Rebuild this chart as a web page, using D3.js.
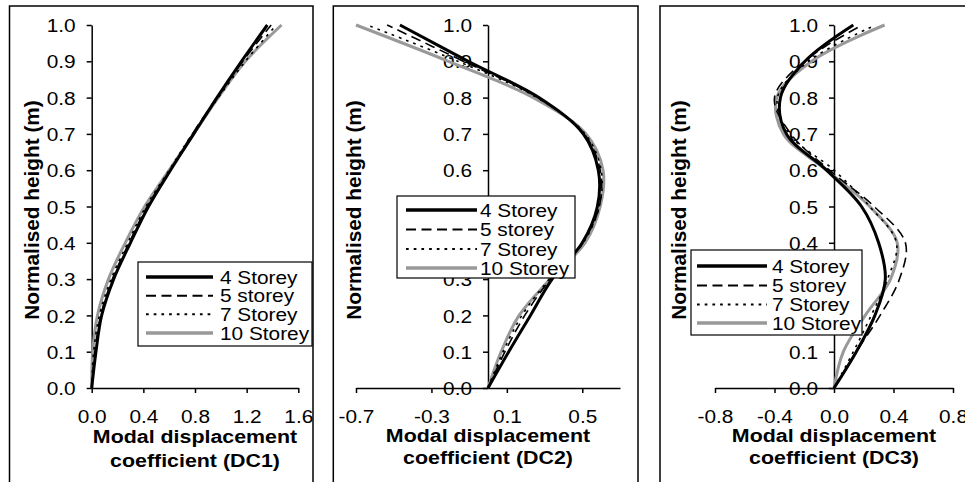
<!DOCTYPE html>
<html>
<head>
<meta charset="utf-8">
<script src="https://cdn.jsdelivr.net/npm/d3@7"></script>
<style>
  html, body { margin: 0; padding: 0; background: #fff; }
  svg { display: block; }
  text { font-family: "Liberation Sans", Arial, sans-serif; fill: #000; }
</style>
</head>
<body>
<svg id="chart" width="965" height="482"></svg>
<script>
// ---------------- DATA ----------------
const heights = [0, 0.1, 0.2, 0.3, 0.4, 0.5, 0.6, 0.7, 0.8, 0.9, 1.0];
const seriesNames = ["4 Storey", "5 storey", "7 Storey", "10 Storey"];

// DC1 (mode 1)
const dc1_4  = [0, 0.033, 0.077, 0.17, 0.30, 0.44, 0.61, 0.79, 0.97, 1.16, 1.36];
const dc1_5  = [0, 0.025, 0.07, 0.16, 0.29, 0.43, 0.61, 0.78, 0.97, 1.17, 1.39];
const dc1_7  = [0, 0.015, 0.06, 0.15, 0.28, 0.42, 0.60, 0.78, 0.98, 1.19, 1.43];
const dc1_10 = [0, 0.008, 0.045, 0.13, 0.26, 0.41, 0.60, 0.79, 0.98, 1.19, 1.47];

// DC2 (mode 2)
const dc2_4  = [0, 0.11, 0.225, 0.34, 0.50, 0.58, 0.585, 0.505, 0.27, -0.105, -0.467];
const dc2_5  = [0, 0.09, 0.195, 0.33, 0.50, 0.59, 0.595, 0.51, 0.265, -0.13, -0.535];
const dc2_7  = [0, 0.08, 0.18, 0.325, 0.505, 0.59, 0.60, 0.515, 0.26, -0.16, -0.64];
const dc2_10 = [0, 0.07, 0.165, 0.33, 0.515, 0.595, 0.61, 0.52, 0.24, -0.21, -0.70];

// DC3 (mode 3)
const dc3_4  = [0, 0.15, 0.275, 0.345, 0.30, 0.185, -0.05, -0.32, -0.36, -0.195, 0.13];
const dc3_5  = [0, 0.15, 0.31, 0.44, 0.48, 0.27, -0.03, -0.29, -0.40, -0.20, 0.19];
const dc3_7  = [0, 0.13, 0.25, 0.36, 0.42, 0.24, 0.0, -0.30, -0.38, -0.17, 0.28];
const dc3_10 = [0, 0.063, 0.21, 0.38, 0.425, 0.24, -0.05, -0.34, -0.385, -0.15, 0.34];

// Tick values
const yTicks  = [0, 0.1, 0.2, 0.3, 0.4, 0.5, 0.6, 0.7, 0.8, 0.9, 1.0];
const xTicks1 = [0, 0.4, 0.8, 1.2, 1.6];
const xTicks2 = [-0.7, -0.3, 0.1, 0.5];
const xTicks3 = [-0.8, -0.4, 0, 0.4, 0.8];

const yTitle = "Normalised height (m)";
const xTitleLine1 = "Modal displacement";
const xTitleLines2 = ["coefficient (DC1)", "coefficient (DC2)", "coefficient (DC3)"];

// ---------------- STYLES ----------------
const seriesStyle = [
  { color: "#000", width: 3,   dash: null,      lw: 3.5 },
  { color: "#000", width: 1.6, dash: "10,5.5",  lw: 2 },
  { color: "#000", width: 1.6, dash: "2.7,5",   lw: 2 },
  { color: "#999", width: 3,   dash: null,      lw: 3.5 }
];
const SX = 1.12;      // horizontal text stretch of the reference
const FS = 18.6;      // tick / legend font size

const panels = [
  { border: [9.5, 313], xr: [91.7, 298.3], domain: [0, 1.6], ticks: xTicks1,
    data: [dc1_4, dc1_5, dc1_7, dc1_10],
    legend: { x: 138, y: 262, w: 174, h: 84, l0: 146, l1: 213, tx: 220, rows: [277, 295.7, 314.3, 333] },
    yTitleX: 39, title2: xTitleLines2[0], tY: [443, 467] },
  { border: [333.3, 638], xr: [356, 620], domain: [-0.7, 0.7], ticks: xTicks2,
    data: [dc2_4, dc2_5, dc2_7, dc2_10],
    legend: { x: 397, y: 196, w: 178, h: 82, l0: 406, l1: 477, tx: 480, rows: [210, 229.5, 249, 268] },
    yTitleX: 361, title2: xTitleLines2[1], tY: [442, 464] },
  { border: [660, 1000], xr: [715, 953], domain: [-0.8, 0.8], ticks: xTicks3,
    data: [dc3_4, dc3_5, dc3_7, dc3_10],
    legend: { x: 691, y: 250, w: 171, h: 85, l0: 697, l1: 767, tx: 772, rows: [266, 285.5, 304.5, 323] },
    yTitleX: 686, title2: xTitleLines2[2], tY: [442, 464] }
];

const svg = d3.select("#chart");
svg.append("rect").attr("width", 965).attr("height", 482).attr("fill", "#fff");

const fmt = v => (Math.abs(v) < 1e-9 ? 0 : v).toFixed(1);

panels.forEach(p => {
  const g = svg.append("g");
  // panel border (bottom edge lies below the picture)
  g.append("rect")
    .attr("x", p.border[0]).attr("y", 6)
    .attr("width", p.border[1] - p.border[0]).attr("height", 520)
    .attr("fill", "#fff").attr("stroke", "#000").attr("stroke-width", 1.5);

  const x = d3.scaleLinear().domain(p.domain).range(p.xr);
  const y = d3.scaleLinear().domain([0, 1]).range([388, 25]);
  const x0 = x(Math.max(p.domain[0], 0));

  // y axis
  const ya = g.append("g").attr("transform", `translate(${x0},0)`)
    .call(d3.axisLeft(y).tickValues(yTicks).tickSize(5).tickSizeOuter(0).tickFormat(""));
  ya.selectAll("path, line").attr("stroke", "#000").attr("stroke-width", 1.5);
  ya.selectAll(".tick").append("text")
    .attr("transform", `translate(-16,0) scale(${SX},1)`)
    .attr("text-anchor", "end").attr("dy", "0.36em")
    .style("font-size", FS + "px")
    .text(d => fmt(d));

  // x axis
  const xa = g.append("g").attr("transform", `translate(0,${y(0)})`)
    .call(d3.axisBottom(x).tickValues(p.ticks).tickSize(5).tickSizeOuter(0).tickFormat(""));
  xa.selectAll("path, line").attr("stroke", "#000").attr("stroke-width", 1.5);
  xa.selectAll(".tick").append("text")
    .attr("transform", `translate(0,35) scale(${SX},1)`)
    .attr("text-anchor", "middle")
    .style("font-size", FS + "px")
    .text(d => fmt(d));

  // axis titles
  const cx = (p.xr[0] + p.xr[1]) / 2;
  g.append("text")
    .attr("transform", `translate(${cx},${p.tY[0]}) scale(1.15,1)`)
    .attr("text-anchor", "middle").style("font-size", "18.6px").style("font-weight", "bold")
    .text(xTitleLine1);
  g.append("text")
    .attr("transform", `translate(${cx},${p.tY[1]}) scale(1.15,1)`)
    .attr("text-anchor", "middle").style("font-size", "18.6px").style("font-weight", "bold")
    .text(p.title2);
  g.append("text")
    .attr("transform", `translate(${p.yTitleX},210) rotate(-90)`)
    .attr("text-anchor", "middle").style("font-size", "20.8px").style("font-weight", "bold")
    .text(yTitle);

  // series
  const line = d3.line()
    .x(d => x(d[0])).y(d => y(d[1]))
    .curve(d3.curveCatmullRom.alpha(0.5));
  const order = [3, 2, 1, 0];
  order.forEach(i => {
    const pts = heights.map((h, k) => [p.data[i][k], h]);
    const st = seriesStyle[i];
    g.append("path").datum(pts)
      .attr("d", line)
      .attr("fill", "none").attr("stroke", st.color)
      .attr("stroke-width", st.width)
      .attr("stroke-dasharray", st.dash)
      .attr("stroke-linejoin", "round");
  });

  // legend
  const L = p.legend;
  const lg = g.append("g");
  lg.append("rect").attr("x", L.x).attr("y", L.y).attr("width", L.w).attr("height", L.h)
    .attr("fill", "#fff").attr("stroke", "#000").attr("stroke-width", 1.2);
  seriesNames.forEach((name, i) => {
    const st = seriesStyle[i];
    lg.append("line")
      .attr("x1", L.l0).attr("x2", L.l1).attr("y1", L.rows[i]).attr("y2", L.rows[i])
      .attr("stroke", st.color).attr("stroke-width", st.lw)
      .attr("stroke-dasharray", st.dash);
    lg.append("text")
      .attr("transform", `translate(${L.tx},${L.rows[i]}) scale(${SX},1)`)
      .attr("dy", "0.36em")
      .style("font-size", FS + "px")
      .text(name);
  });
});
</script>
</body>
</html>
